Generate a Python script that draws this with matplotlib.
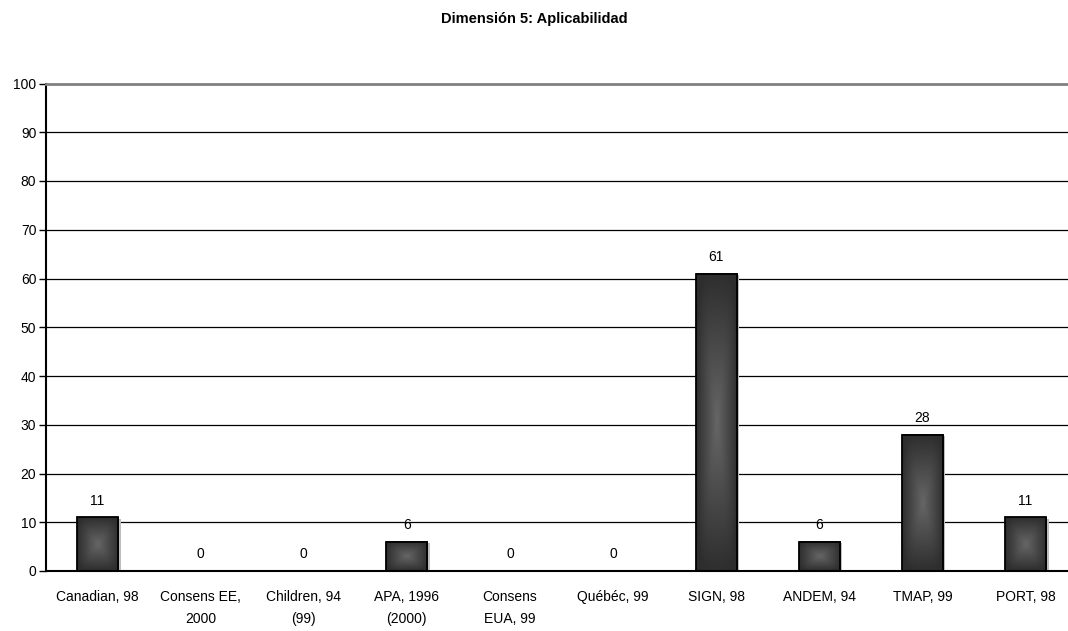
import numpy as np
import matplotlib
matplotlib.use("Agg")
import matplotlib.pyplot as plt
import matplotlib.transforms as mtransforms
from matplotlib.patches import Rectangle

plt.rcParams["font.family"] = ["Liberation Sans", "DejaVu Sans"]

title = "Dimensión 5: Aplicabilidad"
labels = ["Canadian, 98", "Consens EE,\n2000", "Children, 94\n(99)", "APA, 1996\n(2000)",
          "Consens\nEUA, 99", "Québéc, 99", "SIGN, 98", "ANDEM, 94", "TMAP, 99", "PORT, 98"]
values = [11, 0, 0, 6, 0, 0, 61, 6, 28, 11]
yticks = list(range(0, 101, 10))

fig = plt.figure(figsize=(10.68, 6.31), dpi=100)
ax = fig.add_axes((46 / 1068, 60 / 631, 1 - 46 / 1068, 487.5 / 631))

x = np.arange(len(values))
bars = ax.bar(x, values, width=0.4, facecolor="none", edgecolor="black",
              linewidth=1.3, zorder=4)

# pillow shading: dark rim, lighter centre (soft rectangular falloff)
n = 200
u = np.linspace(-1, 1, n)
U, V = np.meshgrid(u, u)
lev = (np.abs(U) ** 4 + np.abs(V) ** 4) ** 0.25
lev = np.clip(lev, 0, 1)
shade = 0.40 - 0.22 * lev
img = np.dstack([shade, shade, shade])

for b in bars:
    h = b.get_height()
    x0, w = b.get_x(), b.get_width()
    if h > 0:
        shadow = Rectangle((x0, 0), w, h, facecolor="#bdbdbd", edgecolor="none", zorder=2,
                           transform=ax.transData + mtransforms.ScaledTranslation(
                               2.5 / 100, -1.5 / 100, fig.dpi_scale_trans))
        ax.add_patch(shadow)
        ax.imshow(img, extent=(x0, x0 + w, 0, h), aspect="auto", zorder=3,
                  interpolation="bilinear")
    ax.annotate(f"{h:g}", (x0 + w / 2, h), xytext=(0, 12), textcoords="offset points",
                ha="center", va="center", fontsize=10)

ax.set_xlim(-0.5, -0.5 + 1022 / 103.1)
ax.set_ylim(0, 100)
ax.set_yticks(yticks)
ax.set_xticks(x)
ax.set_xticklabels(labels, fontsize=10, linespacing=1.65)
ax.tick_params(axis="x", length=0, pad=14)
ax.tick_params(axis="y", length=5, width=1, direction="out", labelsize=10, pad=2)

for yv in yticks[1:-1]:
    ax.axhline(yv, color="black", linewidth=0.9, zorder=1)

ax.spines["right"].set_visible(False)
ax.spines["top"].set_color("#808080")
ax.spines["top"].set_linewidth(2)
ax.spines["left"].set_linewidth(1.5)
ax.spines["bottom"].set_linewidth(1.5)
for s in ax.spines.values():
    s.set_zorder(5)

fig.text(0.5, 1 - 19 / 631, title, ha="center", va="center", fontsize=10.5,
         fontweight="bold")

fig.savefig("out.png", dpi=100)
